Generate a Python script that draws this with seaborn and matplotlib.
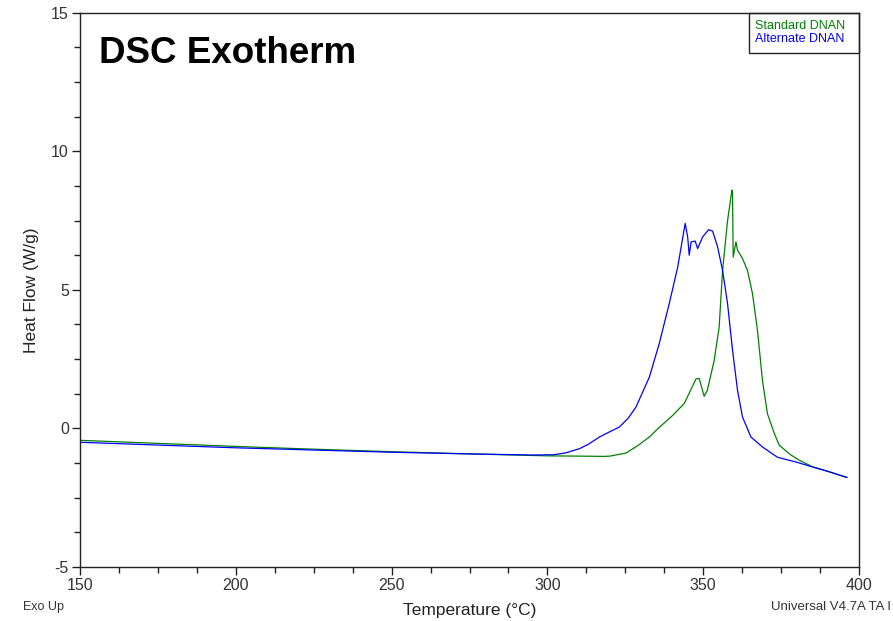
import matplotlib
matplotlib.use("Agg")
import matplotlib.pyplot as plt
from matplotlib.ticker import MultipleLocator
from matplotlib.patches import Rectangle
import seaborn as sns
import pandas as pd

# Standard DNAN (green)
std_temp = [150, 175, 200, 225, 250, 275, 300, 310, 318, 320, 325.2, 329, 332.7, 336, 340.2,
            343.9, 347.7, 348.7, 350.3, 351.3, 353.5, 355.1, 356.2, 357.8, 359.2, 359.4, 359.6,
            360.5, 361.0, 362.6, 364.2, 365.8, 367.4, 369.0, 370.6, 372.8, 374.4, 378, 381,
            385, 390, 396]
std_flow = [-0.43, -0.54, -0.65, -0.75, -0.84, -0.92, -0.99, -1.0, -1.01, -1.0, -0.89, -0.62,
            -0.31, 0.05, 0.47, 0.9, 1.79, 1.8, 1.16, 1.37, 2.45, 3.66, 5.7, 7.5, 8.6, 8.5, 6.18,
            6.73, 6.43, 6.13, 5.7, 4.86, 3.54, 1.73, 0.53, -0.18, -0.61, -0.95, -1.16, -1.38,
            -1.55, -1.77]

# Alternate DNAN (blue)
alt_temp = [150, 175, 200, 225, 250, 275, 295, 302, 306, 310.3, 313, 316.7, 320, 323.1, 326,
            328.4, 332.7, 335.9, 339.1, 341.8, 344.2, 345.0, 345.5, 346.1, 347.4, 348.2, 349.8,
            351.7, 353.0, 354.6, 356.2, 357.8, 359.4, 361.0, 362.6, 365.3, 369.0, 373.8, 380,
            385.6, 390, 396.2]
alt_flow = [-0.50, -0.60, -0.70, -0.78, -0.86, -0.92, -0.96, -0.95, -0.88, -0.73, -0.58, -0.31,
            -0.12, 0.05, 0.38, 0.77, 1.85, 3.07, 4.51, 5.82, 7.4, 6.9, 6.25, 6.73, 6.76, 6.49,
            6.91, 7.17, 7.12, 6.55, 5.7, 4.5, 2.82, 1.37, 0.41, -0.31, -0.67, -1.04, -1.22,
            -1.41, -1.55, -1.77]

series_names = ["Standard DNAN", "Alternate DNAN"]
series_colors = ["#008000", "#0000FF"]

df = pd.concat([
    pd.DataFrame({"Temperature": std_temp, "HeatFlow": std_flow, "Sample": series_names[0]}),
    pd.DataFrame({"Temperature": alt_temp, "HeatFlow": alt_flow, "Sample": series_names[1]}),
])

sns.set_style("ticks")
plt.rcParams['font.family'] = ['Liberation Sans', 'DejaVu Sans']
plt.rcParams['axes.unicode_minus'] = False

fig = plt.figure(figsize=(8.93, 6.21), dpi=100)
ax = fig.add_axes([0.0896, 0.087, 0.8724, 0.8925])

sns.lineplot(data=df, x="Temperature", y="HeatFlow", hue="Sample",
             palette=dict(zip(series_names, series_colors)), sort=False, estimator=None,
             linewidth=0.9, ax=ax, legend=False)

ax.set_xlim(150, 400)
ax.set_ylim(-5, 15)
ax.xaxis.set_major_locator(MultipleLocator(50))
ax.xaxis.set_minor_locator(MultipleLocator(12.5))
ax.yaxis.set_major_locator(MultipleLocator(5))
ax.yaxis.set_minor_locator(MultipleLocator(1.25))
ax.tick_params(which='major', direction='out', length=6, width=1, labelsize=11.5,
               colors='#222222', labelcolor='#333333', pad=2)
ax.tick_params(which='minor', direction='out', length=4, width=1, colors='#222222')
for s in ax.spines.values():
    s.set_visible(True)
    s.set_linewidth(1)
    s.set_color('#222222')

ax.set_xlabel("Temperature (°C)", fontsize=12.5, color='#222222', labelpad=7)
ax.set_ylabel("Heat Flow (W/g)", fontsize=12.5, color='#222222', labelpad=9)

ax.text(0.024, 0.927, "DSC Exotherm", transform=ax.transAxes, fontsize=26.5,
        fontweight='bold', va='center', ha='left', color='black')

# legend box with coloured labels
for name, col, yy in zip(series_names, series_colors, [0.987, 0.963]):
    ax.text(0.866, yy, name, transform=ax.transAxes, fontsize=9,
            color=col, va='top', ha='left')
ax.add_patch(Rectangle((0.859, 0.928), 0.141, 0.072, transform=ax.transAxes,
                       fill=False, edgecolor='#222222', linewidth=1, clip_on=False))

fig.text(23 / 893, 1 - 607 / 621, "Exo Up", fontsize=9, color='#333333',
         va='center', ha='left')
fig.text(891 / 893, 1 - 607 / 621, "Universal V4.7A TA I", fontsize=9.5,
         color='#333333', va='center', ha='right')

fig.savefig("out.png", dpi=100)
